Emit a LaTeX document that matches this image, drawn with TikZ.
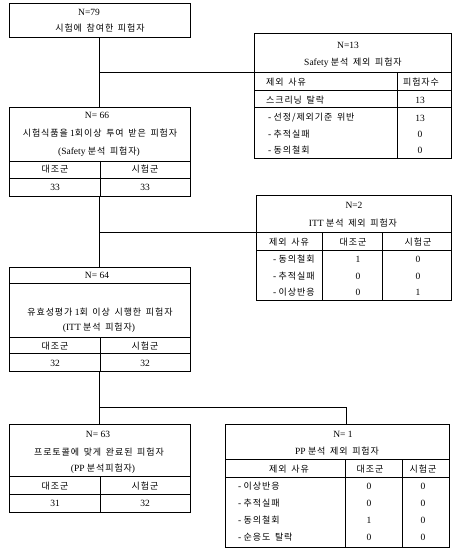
\documentclass[tikz,border=0pt]{standalone}
\usepackage{fontspec}
\setmainfont{Liberation Serif}
\newfontfamily\krfont[LetterSpace=10,WordSpace=1.6]{Noto Sans CJK KR}
\newcommand{\kor}[1]{{\krfont\fontsize{9}{11}\selectfont #1}}

\tikzset{
	box/.style = {draw, line width=0.9pt, rectangle, inner sep=0pt},
	grid/.style = {line width=0.9pt},
	txt/.style = {inner sep=0pt, font=\fontsize{9.5}{11}\selectfont},
	lbl/.style = {txt, anchor=west}
}

\begin{document}
\begin{tikzpicture}[x=1pt, y=-1pt]
	\useasboundingbox (0,0) rectangle (456,553);
	
	% boxes
	\node[box, minimum width=181, minimum height=34] (all) at (99.5,20) {};
	\node[box, minimum width=197, minimum height=125] (safex) at (352.5,95.5) {};
	\node[box, minimum width=181, minimum height=89] (safe) at (99.5,151.5) {};
	\node[box, minimum width=195, minimum height=105] (ittx) at (353.5,247.5) {};
	\node[box, minimum width=181, minimum height=104] (itt) at (99.5,319) {};
	\node[box, minimum width=181, minimum height=88] (pp) at (99.5,468) {};
	\node[box, minimum width=224, minimum height=123] (ppx) at (337,485.5) {};
	
	% connectors
	\coordinate (safexhd) at (254,72.5);
	\coordinate (ittxhd) at (256,232);
	\coordinate (ppjoin) at (346,407);
	\draw[grid] (all.south) -- (safe.north);
	\draw[grid] (safexhd -| all.south) -- (safexhd);
	\draw[grid] (safe.south) -- (itt.north);
	\draw[grid] (ittxhd -| safe.south) -- (ittxhd);
	\draw[grid] (itt.south) -- (pp.north);
	\draw[grid] (ppjoin -| itt.south) -- (ppjoin) -- (ppjoin |- ppx.north);
	
	% N=79
	\node[txt] (allN) at (89,12) {N=79};
	\node[txt] (allT) at (100,28) {\kor{시험에 참여한 피험자}};
	
	% Safety excluded
	\draw[grid] (safexhd) -- (451,72.5); \draw[grid] (397,72.5) -- (397,158);
	\draw[grid] (254,90) -- (451,90); \draw[grid] (254,107) -- (451,107);
	\node[txt] (safexN) at (348,45) {N=13};
	\node[txt] (safexT) at (353,63) {Safety \kor{분석 제외 피험자}};
	\node[lbl] (safexh1) at (266,82) {\kor{제외 사유}};
	\node[txt] (safexh2) at (421,82) {\kor{피험자수}};
	\node[lbl] (safexr1) at (266,100) {\kor{스크리닝 탈락}};
	\node[txt] (safexv1) at (420,100) {13};
	\node[lbl] (safexr2) at (268,118) {- \kor{선정/제외기준 위반}};
	\node[txt] (safexv2) at (420,118) {13};
	\node[lbl] (safexr3) at (268,134) {- \kor{추적실패}};
	\node[txt] (safexv3) at (420,134) {0};
	\node[lbl] (safexr4) at (268,150) {- \kor{동의철회}};
	\node[txt] (safexv4) at (420,150) {0};
	
	% N=66
	\draw[grid] (9,161) -- (190,161); \draw[grid] (9,178) -- (190,178); \draw[grid] (100,161) -- (100,196);
	\node[txt] (safeN) at (97,115) {N= 66};
	\node[txt] (safeT1) at (100,133) {\kor{시험식품을} 1\kor{회이상 투여 받은 피험자}};
	\node[txt] (safeT2) at (99,152) {(Safety \kor{분석 피험자})};
	\node[txt] (safeC) at (55,169) {\kor{대조군}};
	\node[txt] (safeE) at (145,169) {\kor{시험군}};
	\node[txt] (safeCv) at (55,187) {33};
	\node[txt] (safeEv) at (145,187) {33};
	
	% ITT excluded
	\draw[grid] (ittxhd) -- (451,232); \draw[grid] (256,250) -- (451,250);
	\draw[grid] (322,232) -- (322,300); \draw[grid] (382,232) -- (382,300);
	\node[txt] (ittxN) at (354,205) {N=2};
	\node[txt] (ittxT) at (353,223) {ITT \kor{분석 제외 피험자}};
	\node[txt] (ittxh1) at (289,242) {\kor{제외 사유}};
	\node[txt] (ittxh2) at (353,242) {\kor{대조군}};
	\node[txt] (ittxh3) at (418,242) {\kor{시험군}};
	\node[lbl] (ittxr1) at (273,259) {- \kor{동의철회}};
	\node[txt] (ittxc1) at (358,259) {1}; \node[txt] (ittxe1) at (418,259) {0};
	\node[lbl] (ittxr2) at (273,276) {- \kor{추적실패}};
	\node[txt] (ittxc2) at (358,276) {0}; \node[txt] (ittxe2) at (418,276) {0};
	\node[lbl] (ittxr3) at (273,292) {- \kor{이상반응}};
	\node[txt] (ittxc3) at (358,292) {0}; \node[txt] (ittxe3) at (418,292) {1};
	
	% N=64
	\draw[grid] (9,283) -- (190,283); \draw[grid] (9,337) -- (190,337); \draw[grid] (9,353) -- (190,353);
	\draw[grid] (100,337) -- (100,371);
	\node[txt] (ittN) at (97,275) {N= 64};
	\node[txt] (ittT1) at (100,312) {\kor{유효성평가} 1\kor{회 이상 시행한 피험자}};
	\node[txt] (ittT2) at (99,328) {(ITT \kor{분석 피험자})};
	\node[txt] (ittC) at (55,346) {\kor{대조군}};
	\node[txt] (ittE) at (145,346) {\kor{시험군}};
	\node[txt] (ittCv) at (55,363) {32};
	\node[txt] (ittEv) at (145,363) {32};
	
	% N=63
	\draw[grid] (9,476) -- (190,476); \draw[grid] (9,494) -- (190,494); \draw[grid] (100,476) -- (100,512);
	\node[txt] (ppN) at (98,434) {N= 63};
	\node[txt] (ppT1) at (99,452) {\kor{프로토콜에 맞게 완료된 피험자}};
	\node[txt] (ppT2) at (103,469) {(PP \kor{분석피험자})};
	\node[txt] (ppC) at (55,486) {\kor{대조군}};
	\node[txt] (ppE) at (145,486) {\kor{시험군}};
	\node[txt] (ppCv) at (55,503) {31};
	\node[txt] (ppEv) at (145,503) {32};
	
	% PP excluded
	\draw[grid] (225,459) -- (449,459); \draw[grid] (225,477) -- (449,477);
	\draw[grid] (345,459) -- (345,547); \draw[grid] (402,459) -- (402,547);
	\node[txt] (ppxN) at (343,434) {N= 1};
	\node[txt] (ppxT) at (337,451) {PP \kor{분석 제외 피험자}};
	\node[txt] (ppxh1) at (289,469) {\kor{제외 사유}};
	\node[txt] (ppxh2) at (370,469) {\kor{대조군}};
	\node[txt] (ppxh3) at (423,469) {\kor{시험군}};
	\node[lbl] (ppxr1) at (238,486) {- \kor{이상반응}};
	\node[txt] (ppxc1) at (369,486) {0}; \node[txt] (ppxe1) at (423,486) {0};
	\node[lbl] (ppxr2) at (238,503) {- \kor{추적실패}};
	\node[txt] (ppxc2) at (369,503) {0}; \node[txt] (ppxe2) at (423,503) {0};
	\node[lbl] (ppxr3) at (238,520) {- \kor{동의철회}};
	\node[txt] (ppxc3) at (369,520) {1}; \node[txt] (ppxe3) at (423,520) {0};
	\node[lbl] (ppxr4) at (238,537) {- \kor{순응도 탈락}};
	\node[txt] (ppxc4) at (369,537) {0}; \node[txt] (ppxe4) at (423,537) {0};
	
\end{tikzpicture}
\end{document}
